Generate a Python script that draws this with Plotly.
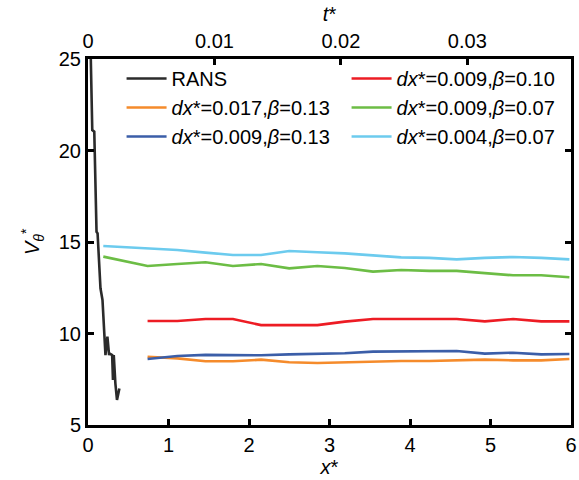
import plotly.graph_objects as go

# RANS solution near the inlet
rans_x = [0.03, 0.053, 0.078, 0.106, 0.119, 0.139, 0.155, 0.18, 0.20, 0.217,
          0.241, 0.262, 0.27, 0.30, 0.31, 0.32, 0.34, 0.36, 0.39]
rans_v = [26.0, 21.12, 21.03, 15.56, 15.47, 13.47, 12.47, 11.83, 10.19, 8.82,
          9.83, 8.82, 8.90, 8.82, 7.46, 8.82, 7.28, 6.37, 7.00]

# Sampling stations of the LES runs
x_les = [0.74, 1.11, 1.46, 1.80, 2.15, 2.50, 2.85, 3.19, 3.54, 3.89,
         4.24, 4.58, 4.93, 5.28, 5.63, 5.98]
x_les_fine = [0.19] + x_les

v_dx0009_b010 = [10.68, 10.68, 10.79, 10.79, 10.46, 10.46, 10.46, 10.65, 10.79, 10.79,
                 10.79, 10.79, 10.66, 10.79, 10.66, 10.66]
v_dx0017_b013 = [8.73, 8.64, 8.48, 8.48, 8.57, 8.43, 8.39, 8.43, 8.46, 8.50,
                 8.50, 8.55, 8.57, 8.53, 8.53, 8.61]
v_dx0009_b007 = [14.20, 13.69, 13.80, 13.89, 13.69, 13.80, 13.56, 13.69, 13.58, 13.38,
                 13.47, 13.42, 13.42, 13.29, 13.18, 13.18, 13.07]
v_dx0009_b013 = [8.61, 8.77, 8.83, 8.83, 8.81, 8.86, 8.90, 8.92, 9.01, 9.03,
                 9.04, 9.04, 8.90, 8.95, 8.86, 8.88]
v_dx0004_b007 = [14.78, 14.66, 14.56, 14.42, 14.29, 14.29, 14.51, 14.44, 14.38, 14.27,
                 14.16, 14.13, 14.05, 14.13, 14.18, 14.13, 14.05]

t_ticks = [0, 0.01, 0.02, 0.03]
t_labels = ["0", "0.01", "0.02", "0.03"]
x_ticks = [0, 1, 2, 3, 4, 5, 6]
y_ticks = [5, 10, 15, 20, 25]

FONT = "Liberation Sans, Arial, sans-serif"
LW = 2.6

fig = go.Figure()
series = [
    ("RANS", rans_x, rans_v, "#2b2b2b"),
    ("<i>dx</i>*=0.009,<i>β</i>=0.10", x_les, v_dx0009_b010, "#ed1c24"),
    ("<i>dx</i>*=0.017,<i>β</i>=0.13", x_les, v_dx0017_b013, "#f58b2b"),
    ("<i>dx</i>*=0.009,<i>β</i>=0.07", x_les_fine, v_dx0009_b007, "#6cbd45"),
    ("<i>dx</i>*=0.009,<i>β</i>=0.13", x_les, v_dx0009_b013, "#3b5ea8"),
    ("<i>dx</i>*=0.004,<i>β</i>=0.07", x_les_fine, v_dx0004_b007, "#6ccbee"),
]
for name, xs, ys, col in series:
    fig.add_trace(go.Scatter(x=xs, y=ys, mode="lines", name=name,
                             line=dict(color=col, width=LW)))

# invisible trace carrying the time axis on top
fig.add_trace(go.Scatter(x=[0, 0.0382], y=[None, None], xaxis="x2", mode="lines",
                         showlegend=False, hoverinfo="skip"))

axis_common = dict(showgrid=False, zeroline=False, linecolor="black", linewidth=3,
                   ticks="inside", ticklen=6, tickwidth=3, tickcolor="black",
                   ticklabeloverflow="allow",
                   tickfont=dict(family=FONT, size=20, color="black"))

fig.update_layout(
    width=579, height=480,
    margin=dict(l=88, r=2, t=59, b=55),
    paper_bgcolor="white", plot_bgcolor="white",
    font=dict(family=FONT, size=20, color="black"),
    xaxis=dict(range=[0, 6], tickvals=x_ticks, mirror=True,
               title=dict(text="<i>x</i>*", font=dict(size=20), standoff=2),
               **axis_common),
    xaxis2=dict(range=[0, 0.0382], overlaying="x", side="top",
                tickvals=t_ticks, ticktext=t_labels,
                title=dict(text="<i>t</i>*", font=dict(size=20), standoff=4),
                **axis_common),
    yaxis=dict(range=[5, 25], tickvals=y_ticks, mirror="ticks", **axis_common),
    legend=dict(orientation="h", x=0.0695, y=1.0, xanchor="left", yanchor="top",
                entrywidth=170, entrywidthmode="pixels",
                bgcolor="rgba(0,0,0,0)", font=dict(family=FONT, size=20),
                tracegroupgap=0, itemwidth=40),
    showlegend=True,
    annotations=[dict(text="<i>V</i><sub><i>θ</i></sub><sup>*</sup>",
                      textangle=-90, xref="paper", yref="paper",
                      x=0, y=0.5, xanchor="center", yanchor="middle",
                      xshift=-56, showarrow=False,
                      font=dict(family=FONT, size=20, color="black"))],
)

fig.write_html("out.html")
